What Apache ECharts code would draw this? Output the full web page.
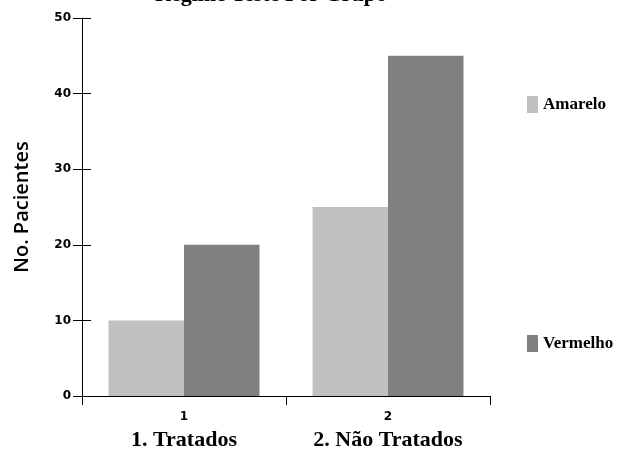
<!DOCTYPE html>
<html><head><meta charset="utf-8">
<script src="https://cdn.jsdelivr.net/npm/echarts@6/dist/echarts.min.js"></script>
<style>html,body{margin:0;padding:0;background:#fff}#c{width:619px;height:452px}</style>
</head><body><div id="c"></div>
<script>
var titleText = 'Regime Teste Por Grupo';
var categories = ['1', '2'];
var categoryNames = ['1. Tratados', '2. Não Tratados'];
var seriesNames = ['Amarelo', 'Vermelho'];
var amarelo = [10, 25];
var vermelho = [20, 45];
var yTicks = [0, 10, 20, 30, 40, 50];

var chart = echarts.init(document.getElementById('c'));
chart.setOption({
  animation: false,
  backgroundColor: '#fff',
  title: {text: titleText, left: 266, textAlign: 'center', top: -21,
    textStyle: {fontFamily: 'Liberation Serif', fontWeight: 'bold', fontSize: 22, color: '#000'}},
  grid: {left: 82, right: 129, top: 18, bottom: 56},
  legend: {orient: 'vertical', left: 522, top: 91, itemGap: 222, itemWidth: 11, itemHeight: 17,
    data: seriesNames, icon: 'rect',
    textStyle: {fontFamily: 'Liberation Serif', fontWeight: 'bold', fontSize: 17, color: '#000', padding: [0,0,0,0]}},
  xAxis: {type: 'category', data: categories,
    axisLine: {lineStyle: {color: '#000', width: 1}},
    axisTick: {show: true, length: 9, lineStyle: {color: '#000'}},
    axisLabel: {margin: 10, formatter: function (v, i) { return '{a|' + v + '}\n{b|' + categoryNames[i] + '}'; },
      rich: {a: {fontFamily: 'DejaVu Sans', fontWeight: 'bold', fontSize: 12, color: '#000', lineHeight: 22},
             b: {fontFamily: 'Liberation Serif', fontWeight: 'bold', fontSize: 22, color: '#000', lineHeight: 24}}}},
  yAxis: [{type: 'value', min: 0, max: 50, interval: 10,
    name: 'No. Pacientes', nameLocation: 'middle', nameGap: 50, nameRotate: 90,
    nameTextStyle: {fontFamily: 'Open Sans', fontWeight: 600, fontSize: 20, color: '#000'},
    axisLine: {show: true, lineStyle: {color: '#000'}},
    axisTick: {show: true, length: 9, lineStyle: {color: '#000'}},
    axisLabel: {margin: 11, fontFamily: 'DejaVu Sans', fontWeight: 'bold', fontSize: 12, color: '#000',
      formatter: function (v) { return yTicks.indexOf(v) >= 0 ? String(v) : ''; }},
    splitLine: {show: false}},
   {type: 'value', min: 0, max: 50, interval: 10, position: 'left',
    axisLine: {show: false}, axisLabel: {show: false}, splitLine: {show: false},
    axisTick: {show: true, inside: true, length: 9, lineStyle: {color: '#000'}}}],
  series: [
    {name: seriesNames[0], type: 'bar', data: amarelo, barGap: '0%', barCategoryGap: '26%',
      itemStyle: {color: '#c0c0c0'}},
    {name: seriesNames[1], type: 'bar', data: vermelho, barGap: '0%', barCategoryGap: '26%',
      itemStyle: {color: '#808080'}}
  ]
});
</script></body></html>
